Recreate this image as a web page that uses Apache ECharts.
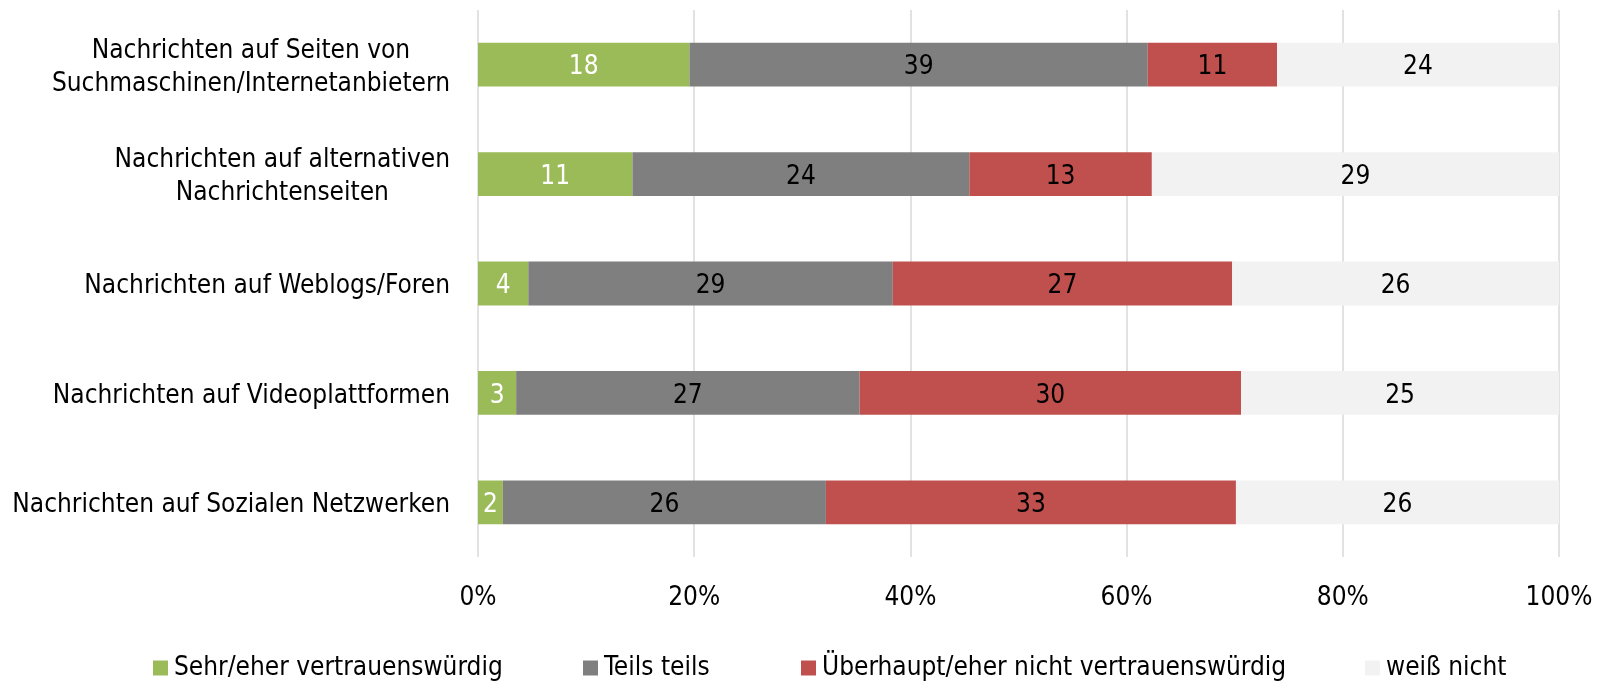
<!DOCTYPE html>
<html>
<head>
<meta charset="utf-8">
<script src="https://cdn.jsdelivr.net/npm/echarts@6/dist/echarts.min.js"></script>
<style>
  html, body { margin: 0; padding: 0; background: #fff; }
  #chart { width: 1602px; height: 681px; }
</style>
</head>
<body>
<div id="chart"></div>
<script>
const categories = [
  'Nachrichten auf Seiten von\nSuchmaschinen/Internetanbietern',
  'Nachrichten auf alternativen\nNachrichtenseiten',
  'Nachrichten auf Weblogs/Foren',
  'Nachrichten auf Videoplattformen',
  'Nachrichten auf Sozialen Netzwerken',
];
const seriesNames = [
  'Sehr/eher vertrauenswürdig',
  'Teils teils',
  'Überhaupt/eher nicht vertrauenswürdig',
  'weiß nicht',
];
const trusted = [18, 11, 4, 3, 2];
const partly = [39, 24, 29, 27, 26];
const untrusted = [11, 13, 27, 30, 33];
const dontKnow = [24, 29, 26, 25, 26];
const xTicks = [0, 20, 40, 60, 80, 100];

const colors = ['#9BBB59', '#7F7F7F', '#C0504D', '#F2F2F2'];
const labelColors = ['#FFFFFF', '#000000', '#000000', '#000000'];
const legendLeft = [148, 578, 796, 1360];
const FONT = '"DejaVu Sans Condensed", "Liberation Sans Narrow", "Arial Narrow", sans-serif';
const FS = 26;

const raw = [trusted, partly, untrusted, dontKnow];
const totals = categories.map((c, i) => raw.reduce((s, arr) => s + arr[i], 0));

const chart = echarts.init(document.getElementById('chart'));

const option = {
  animation: false,
  color: colors,
  grid: { left: 478, right: 43, top: 10, bottom: 124, containLabel: false },
  legend: seriesNames.map((name, i) => ({
    data: [name],
    left: legendLeft[i],
    top: 650,
    itemWidth: 15,
    itemHeight: 15,
    icon: 'rect',
    itemGap: 0,
    textStyle: { fontFamily: FONT, fontSize: FS, color: '#000', padding: [0, 0, 0, 1] },
    selectedMode: false,
  })),
  xAxis: {
    type: 'value',
    min: 0,
    max: 100,
    interval: 20,
    axisLine: { show: false },
    axisTick: { show: false },
    splitLine: { show: true, lineStyle: { color: '#D9D9D9', width: 1.5 } },
    axisLabel: {
      fontFamily: FONT,
      fontSize: FS,
      color: '#000',
      margin: 28,
      formatter: (v) => (xTicks.includes(v) ? v + '%' : ''),
    },
  },
  yAxis: {
    type: 'category',
    data: categories,
    inverse: true,
    axisLine: { show: false },
    axisTick: { show: false },
    axisLabel: {
      margin: 28,
      padding: [6, 0, 0, 0],
      formatter: (v) => '{c|' + v.split('\n').join('}\n{c|') + '}',
      rich: {
        c: { fontFamily: FONT, fontSize: FS, color: '#000', align: 'center', lineHeight: 33 },
      },
    },
  },
  series: seriesNames.map((name, si) => ({
    name,
    type: 'bar',
    stack: 'all',
    barWidth: '40%',
    itemStyle: { color: colors[si] },
    label: {
      show: true,
      position: 'inside',
      offset: [0, 3],
      color: labelColors[si],
      fontFamily: FONT,
      fontSize: FS,
      formatter: (p) => raw[si][p.dataIndex],
    },
    emphasis: { disabled: true },
    data: raw[si].map((v, i) => (v / totals[i]) * 100),
  })),
};

chart.setOption(option);
</script>
</body>
</html>
